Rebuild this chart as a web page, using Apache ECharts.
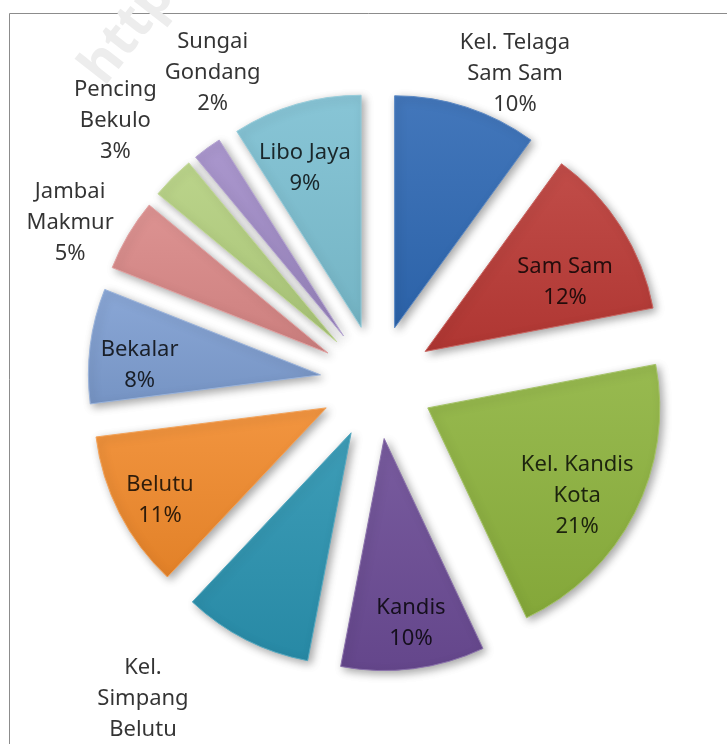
<!DOCTYPE html>
<html>
<head>
<meta charset="utf-8">
<script src="https://cdn.jsdelivr.net/npm/echarts@6/dist/echarts.min.js"></script>
<style>html,body{margin:0;padding:0;background:#fff}#c{width:727px;height:744px}</style>
</head>
<body>
<div id="c"></div>
<script>
// ---- data ----
const categories = ['Kel. Telaga Sam Sam','Sam Sam','Kel. Kandis Kota','Kandis','Kel. Simpang Belutu','Belutu','Bekalar','Jambai Makmur','Pencing Bekulo','Sungai Gondang','Libo Jaya'];
const shares = [10, 12, 21, 10, 9, 11, 8, 5, 3, 2, 9];
const labelText = ['Kel. Telaga\nSam Sam','Sam Sam','Kel. Kandis\nKota','Kandis','Kel.\nSimpang\nBelutu','Belutu','Bekalar','Jambai\nMakmur','Pencing\nBekulo','Sungai\nGondang','Libo Jaya'];

// ---- style ----
const colors = ['#2E68B3','#BA3935','#8CB23D','#6A4A94','#2992AF','#F0892B','#7D9DD1','#D98786','#B3CF7E','#A18BC7','#7BBFD1'];
const CX = 377, CY = 382, R = 232, OFFSET = 57;
// label placement (polar, around pie centre): angle in degrees clockwise from 12 o'clock, distance in px
const labelAngle = [24.1, 62, 119.5, 172, 215.2, 241.5, 274, 297.5, 315, 332, 341.4];
const labelDist = [338, 213, 230, 244, 406, 247, 238, 346, 370, 350, 226];

function shade(hex, f) {
  const n = parseInt(hex.slice(1), 16);
  let r = n >> 16, g = (n >> 8) & 255, b = n & 255;
  if (f >= 0) { r += (255 - r) * f; g += (255 - g) * f; b += (255 - b) * f; }
  else { r *= 1 + f; g *= 1 + f; b *= 1 + f; }
  return 'rgb(' + Math.round(r) + ',' + Math.round(g) + ',' + Math.round(b) + ')';
}
const total = shares.reduce((a, b) => a + b, 0);

function sliceStyle(i) {
  return {
    color: new echarts.graphic.LinearGradient(0, 0, 0, 1, [
      { offset: 0, color: shade(colors[i], 0.10) },
      { offset: 1, color: shade(colors[i], -0.06) }
    ]),
    borderColor: shade(colors[i], 0.22),
    borderWidth: 1,
    shadowBlur: 8,
    shadowOffsetX: 3,
    shadowOffsetY: 3,
    shadowColor: 'rgba(0,0,0,0.35)'
  };
}

const chart = echarts.init(document.getElementById('c'), null, { renderer: 'canvas' });
chart.setOption({
  animation: false,
  backgroundColor: '#fff',
  graphic: [
    { type: 'rect', z: 0, shape: { x: 9.5, y: 13.5, width: 900, height: 900 }, style: { fill: 'none', stroke: '#8c8c8c', lineWidth: 1 } },
    { type: 'text', z: 1, x: 128, y: 32, rotation: 52 * Math.PI / 180, style: { text: 'http', font: 'bold 54px "Noto Sans"', fill: '#ededed', align: 'center', verticalAlign: 'middle' } }
  ],
  polar: { center: [CX, CY], radius: 450 },
  angleAxis: { type: 'value', min: 0, max: 360, startAngle: 90, clockwise: true, show: false },
  radiusAxis: { type: 'value', min: 0, max: 450, show: false },
  series: [{
    type: 'pie',
    z: 2,
    center: [CX, CY],
    radius: [0, R],
    startAngle: 90,
    clockwise: true,
    selectedMode: 'multiple',
    selectedOffset: OFFSET,
    label: { show: false },
    labelLine: { show: false },
    emphasis: { disabled: true },
    data: categories.map((name, i) => ({
      name: name,
      value: shares[i],
      selected: true,
      itemStyle: sliceStyle(i),
      select: { itemStyle: sliceStyle(i) }
    }))
  }, {
    type: 'scatter',
    coordinateSystem: 'polar',
    z: 5,
    symbolSize: 0,
    silent: true,
    data: labelDist.map((d, i) => ({ value: [d, labelAngle[i]], name: categories[i] })),
    label: {
      show: true,
      position: 'inside',
      color: '#000',
      fontFamily: 'Noto Sans',
      fontSize: 22,
      lineHeight: 31,
      align: 'center',
      verticalAlign: 'middle',
      formatter: p => labelText[p.dataIndex] + '\n' + Math.round(shares[p.dataIndex] / total * 100) + '%'
    }
  }]
});
</script>
</body>
</html>
